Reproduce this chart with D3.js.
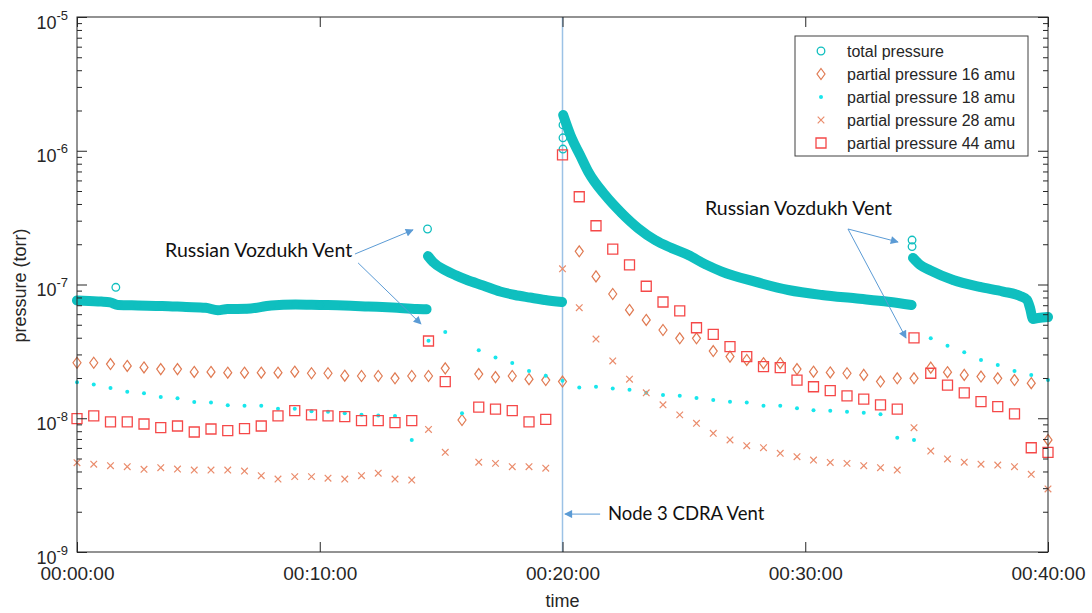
<!DOCTYPE html>
<html>
<head>
<meta charset="utf-8">
<script src="https://cdnjs.cloudflare.com/ajax/libs/d3/7.8.5/d3.min.js"></script>
<style>
  body { margin: 0; background: #fff; }
  svg { display: block; }
</style>
</head>
<body>
<div id="chart"></div>
<script>
// sample times of the partial pressure scans (minutes)
var sampleTimes = [0.00,0.69,1.38,2.07,2.76,3.45,4.14,4.83,5.52,6.21,6.90,7.59,8.28,8.97,9.66,10.34,11.03,11.72,12.41,13.10,13.79,14.48,
  15.17,15.86,16.55,17.24,17.93,18.62,19.31,20.00,
  20.69,21.38,22.07,22.76,23.45,24.14,24.83,25.52,26.21,26.90,27.59,28.28,28.97,29.66,30.34,31.03,
  31.72,32.41,33.10,33.79,34.48,35.17,35.86,36.55,37.24,37.93,38.62,39.31,40.00];

var pp16 = [2.60e-8,2.60e-8,2.54e-8,2.46e-8,2.40e-8,2.33e-8,2.33e-8,2.22e-8,2.22e-8,2.19e-8,2.19e-8,2.19e-8,2.19e-8,2.23e-8,2.17e-8,2.17e-8,2.08e-8,2.07e-8,2.07e-8,1.99e-8,2.07e-8,2.07e-8,
  2.36e-8,9.70e-9,2.14e-8,2.03e-8,2.07e-8,1.96e-8,1.93e-8,1.88e-8,
  1.77e-7,1.15e-7,8.49e-8,6.45e-8,5.43e-8,4.57e-8,3.96e-8,3.96e-8,3.18e-8,2.89e-8,2.73e-8,2.58e-8,2.58e-8,2.33e-8,2.23e-8,2.20e-8,
  2.17e-8,2.11e-8,1.88e-8,1.99e-8,1.99e-8,2.39e-8,2.21e-8,2.11e-8,2.05e-8,1.99e-8,1.93e-8,1.83e-8,6.88e-9];

var pp18 = [1.86e-8,1.79e-8,1.68e-8,1.58e-8,1.54e-8,1.44e-8,1.41e-8,1.32e-8,1.31e-8,1.25e-8,1.24e-8,1.24e-8,1.18e-8,1.18e-8,1.13e-8,1.12e-8,1.09e-8,1.06e-8,1.05e-8,1.04e-8,6.88e-9,3.80e-8,
  4.42e-8,1.09e-8,3.22e-8,2.84e-8,2.59e-8,2.26e-8,2.08e-8,1.91e-8,
  1.70e-8,1.72e-8,1.67e-8,1.63e-8,1.55e-8,1.49e-8,1.47e-8,1.42e-8,1.37e-8,1.33e-8,1.31e-8,1.24e-8,1.24e-8,1.19e-8,1.15e-8,1.14e-8,
  1.12e-8,1.10e-8,1.07e-8,7.15e-9,6.88e-9,3.96e-8,3.49e-8,3.11e-8,2.73e-8,2.50e-8,2.26e-8,2.11e-8,1.93e-8];

var pp28 = [4.65e-9,4.53e-9,4.42e-9,4.34e-9,4.15e-9,4.27e-9,4.17e-9,4.10e-9,4.10e-9,4.10e-9,4.03e-9,3.72e-9,3.51e-9,3.66e-9,3.66e-9,3.56e-9,3.51e-9,3.72e-9,3.88e-9,3.51e-9,3.45e-9,8.24e-9,
  5.56e-9,null,4.69e-9,4.60e-9,4.34e-9,4.34e-9,4.23e-9,1.31e-7,
  6.71e-8,3.91e-8,2.68e-8,1.96e-8,1.55e-8,1.26e-8,1.06e-8,9.17e-9,7.72e-9,6.88e-9,6.23e-9,6.02e-9,5.47e-9,5.16e-9,4.87e-9,4.67e-9,
  4.60e-9,4.42e-9,4.27e-9,4.10e-9,8.50e-9,5.69e-9,4.96e-9,4.69e-9,4.53e-9,4.47e-9,4.34e-9,3.81e-9,2.96e-9];

var pp44 = [9.92e-9,1.04e-8,9.38e-9,9.38e-9,9.06e-9,8.50e-9,8.75e-9,7.89e-9,8.31e-9,8.07e-9,8.35e-9,8.75e-9,1.04e-8,1.14e-8,1.06e-8,1.04e-8,1.03e-8,9.59e-9,9.59e-9,9.26e-9,9.59e-9,3.78e-8,
  1.88e-8,null,1.21e-8,1.17e-8,1.14e-8,9.38e-9,9.82e-9,9.30e-7,
  4.53e-7,2.75e-7,1.84e-7,1.40e-7,9.70e-8,7.40e-8,6.34e-8,4.75e-8,4.24e-8,3.43e-8,2.89e-8,2.43e-8,2.39e-8,1.93e-8,1.72e-8,1.61e-8,
  1.47e-8,1.39e-8,1.26e-8,1.17e-8,3.99e-8,2.17e-8,1.77e-8,1.55e-8,1.33e-8,1.22e-8,1.08e-8,6.02e-9,5.56e-9];

// total pressure, [minutes, torr], one list per stretch between vents
var totalA = [[0.00,7.60e-8],[0.50,7.52e-8],[1.00,7.46e-8],[1.36,7.36e-8],[1.69,7.03e-8],[2.50,6.97e-8],[3.50,6.91e-8],[4.50,6.79e-8],
  [5.30,6.70e-8],[5.80,6.42e-8],[6.20,6.55e-8],[7.00,6.58e-8],[8.00,6.97e-8],[9.00,7.09e-8],[10.00,7.03e-8],[11.00,6.97e-8],
  [12.00,6.85e-8],[13.00,6.73e-8],[14.00,6.57e-8],[14.40,6.53e-8]];
var totalB = [[14.46,1.63e-7],[14.67,1.47e-7],[15.16,1.28e-7],[15.61,1.17e-7],[16.07,1.08e-7],[16.73,9.83e-8],[17.43,8.86e-8],
  [18.04,8.35e-8],[18.66,7.99e-8],[19.28,7.66e-8],[19.98,7.40e-8]];
var totalC = [[20.03,1.85e-6],[20.38,1.24e-6],[20.72,9.30e-7],[21.06,6.97e-7],[21.75,4.67e-7],[22.44,3.41e-7],[23.12,2.63e-7],
  [23.81,2.15e-7],[24.50,1.87e-7],[25.18,1.66e-7],[25.87,1.42e-7],[26.56,1.25e-7],[27.93,1.05e-7],[29.30,9.10e-8],
  [30.68,8.35e-8],[32.05,7.88e-8],[33.42,7.44e-8],[34.38,7.03e-8]];
var totalD = [[34.44,1.58e-7],[34.73,1.40e-7],[35.14,1.28e-7],[36.09,1.08e-7],[37.20,9.58e-8],[38.15,8.86e-8],[38.85,8.20e-8],
  [39.14,7.66e-8],[39.26,6.67e-8],[39.38,5.52e-8],[39.59,5.62e-8],[40.00,5.71e-8]];
var totalSpikes = [[1.60,9.53e-8],[14.44,2.60e-7],[20.02,1.56e-6],[20.02,1.25e-6],[20.02,1.03e-6],[34.40,2.15e-7],[34.40,1.92e-7]];

var xTicks = [0, 10, 20, 30, 40];
var xTickLabels = ["00:00:00", "00:10:00", "00:20:00", "00:30:00", "00:40:00"];
var yTicks = [1e-9, 1e-8, 1e-7, 1e-6, 1e-5];
var legendLabels = ["total pressure", "partial pressure 16 amu", "partial pressure 18 amu", "partial pressure 28 amu", "partial pressure 44 amu"];

// annotations in data units: text anchor and arrows [t0,p0,t1,p1]
var vozdukh = [
  {text: "Russian Vozdukh Vent", t: 3.63, p: 1.61e-7, arrows: [[11.45,1.69e-7,13.84,2.56e-7],[11.58,1.45e-7,14.17,5.07e-8]]},
  {text: "Russian Vozdukh Vent", t: 25.87, p: 3.31e-7, arrows: [[31.76,2.60e-7,33.82,2.08e-7],[31.76,2.60e-7,34.15,3.98e-8]]}
];
var cdra = {text: "Node 3 CDRA Vent", t: 21.87, p: 1.73e-9, arrow: [21.55,1.92e-9,20.10,1.92e-9], ventTime: 20};

var width = 1092, height = 613;
var plotLeft = 77, plotRight = 1048, plotTop = 17, plotBottom = 552;

var svg = d3.select("#chart").append("svg")
    .attr("width", width)
    .attr("height", height);

var x = d3.scaleLinear().domain([0, 40]).range([plotLeft, plotRight]);
var y = d3.scaleLog().domain([1e-9, 1e-5]).range([plotBottom, plotTop]);

var teal = "#0fbfbf", c16 = "#e07a52", c18 = "#18e6ec", c28 = "#ea8c6c", c44 = "#f54848";
var axisColor = "#262626";
var arrowColor = "#5b9bd5";

svg.append("defs").append("marker")
    .attr("id", "arrow")
    .attr("viewBox", "0 0 10 10")
    .attr("refX", 9).attr("refY", 5)
    .attr("markerWidth", 10).attr("markerHeight", 8)
    .attr("markerUnits", "userSpaceOnUse")
    .attr("orient", "auto")
  .append("path")
    .attr("d", "M0,0 L10,5 L0,10 z")
    .attr("fill", arrowColor);

// vent line at 20 min
svg.append("line")
    .attr("x1", x(cdra.ventTime)).attr("x2", x(cdra.ventTime))
    .attr("y1", y(1e-9)).attr("y2", y(1e-5))
    .attr("stroke", "#9cc2e6")
    .attr("stroke-width", 1.5);

// total pressure band
var band = d3.line()
    .x(function(d) { return x(d[0]); })
    .y(function(d) { return y(d[1]); })
    .curve(d3.curveMonotoneX);

var totalG = svg.append("g");
[totalA, totalB, totalC, totalD].forEach(function(seg) {
  totalG.append("path")
      .attr("d", band(seg))
      .attr("fill", "none")
      .attr("stroke", teal)
      .attr("stroke-width", 10)
      .attr("stroke-linecap", "round")
      .attr("stroke-linejoin", "round");
});
totalG.selectAll("circle")
    .data(totalA.concat(totalB, totalC, totalD, totalSpikes))
    .enter()
    .append("circle")
    .attr("cx", function(d) { return x(d[0]); })
    .attr("cy", function(d) { return y(d[1]); })
    .attr("r", 3.8)
    .attr("fill", "none")
    .attr("stroke", teal)
    .attr("stroke-width", 1.3);

// marker shapes
function diamondPath() { return "M0,-5.5 L4,0 L0,5.5 L-4,0 Z"; }
function crossPath() { return "M-3.3,-3.3 L3.3,3.3 M-3.3,3.3 L3.3,-3.3"; }
function squarePath() { return "M-5,-5 L5,-5 L5,5 L-5,5 Z"; }

function points(values) {
  return values.map(function(v, i) { return {t: sampleTimes[i], p: v}; })
    .filter(function(d) { return d.p != null; });
}
function place(d) { return "translate(" + x(d.t) + "," + y(d.p) + ")"; }

svg.append("g").selectAll("path")
    .data(points(pp16)).enter().append("path")
    .attr("d", diamondPath())
    .attr("transform", place)
    .attr("fill", "none").attr("stroke", c16).attr("stroke-width", 1.2);

svg.append("g").selectAll("circle")
    .data(points(pp18)).enter().append("circle")
    .attr("cx", function(d) { return x(d.t); })
    .attr("cy", function(d) { return y(d.p); })
    .attr("r", 2)
    .attr("fill", c18);

svg.append("g").selectAll("path")
    .data(points(pp28)).enter().append("path")
    .attr("d", crossPath())
    .attr("transform", place)
    .attr("fill", "none").attr("stroke", c28).attr("stroke-width", 1.2);

svg.append("g").selectAll("path")
    .data(points(pp44)).enter().append("path")
    .attr("d", squarePath())
    .attr("transform", place)
    .attr("fill", "none").attr("stroke", c44).attr("stroke-width", 1.3);

// axes (ticks point inward)
function styleAxis(g) {
  g.select(".domain").remove();
  g.selectAll(".tick line").attr("stroke", axisColor);
}
var minorTicks = [];
[-9, -8, -7, -6].forEach(function(k) {
  for (var m = 2; m <= 9; m++) minorTicks.push(m * Math.pow(10, k));
});

var xAxis = svg.append("g")
    .attr("transform", "translate(0," + plotBottom + ")")
    .call(d3.axisBottom(x).tickValues(xTicks).tickSize(-10)
      .tickFormat(function(d, i) { return xTickLabels[i]; }))
    .call(styleAxis);
xAxis.selectAll(".tick text")
    .attr("y", 28).attr("dy", null)
    .attr("font-family", "Liberation Sans, Arial, sans-serif")
    .attr("font-size", 19)
    .attr("fill", axisColor);

svg.append("g")
    .attr("transform", "translate(0," + plotTop + ")")
    .call(d3.axisTop(x).tickValues(xTicks).tickSize(-10).tickFormat(""))
    .call(styleAxis);

var yAxis = svg.append("g")
    .attr("transform", "translate(" + plotLeft + ",0)")
    .call(d3.axisLeft(y).tickValues(yTicks).tickSize(-10))
    .call(styleAxis);
yAxis.selectAll(".tick text")
    .text(null)
    .attr("x", -9).attr("y", 11).attr("dy", null)
    .attr("font-family", "Liberation Sans, Arial, sans-serif")
    .attr("font-size", 18)
    .attr("fill", axisColor)
    .each(function(d) {
      var t = d3.select(this);
      t.append("tspan").text("10");
      t.append("tspan").attr("dy", -9).attr("font-size", 13).text(Math.round(Math.log10(d)));
    });

svg.append("g")
    .attr("transform", "translate(" + plotLeft + ",0)")
    .call(d3.axisLeft(y).tickValues(minorTicks).tickSize(-5).tickFormat(""))
    .call(styleAxis);

svg.append("g")
    .attr("transform", "translate(" + plotRight + ",0)")
    .call(d3.axisRight(y).tickValues(yTicks).tickSize(-10).tickFormat(""))
    .call(styleAxis);
svg.append("g")
    .attr("transform", "translate(" + plotRight + ",0)")
    .call(d3.axisRight(y).tickValues(minorTicks).tickSize(-5).tickFormat(""))
    .call(styleAxis);

svg.append("rect")
    .attr("x", plotLeft).attr("y", plotTop)
    .attr("width", plotRight - plotLeft).attr("height", plotBottom - plotTop)
    .attr("fill", "none")
    .attr("stroke", axisColor)
    .attr("stroke-width", 1);

// axis titles
svg.append("text")
    .attr("x", x(20)).attr("y", 607)
    .attr("text-anchor", "middle")
    .attr("font-family", "Liberation Sans, Arial, sans-serif")
    .attr("font-size", 18)
    .attr("fill", axisColor)
    .text("time");
svg.append("text")
    .attr("transform", "translate(26," + ((plotTop + plotBottom) / 2 + 1) + ") rotate(-90)")
    .attr("text-anchor", "middle")
    .attr("font-family", "Liberation Sans, Arial, sans-serif")
    .attr("font-size", 18)
    .attr("fill", axisColor)
    .text("pressure (torr)");

// annotations
var annFont = "Lato, 'Open Sans', sans-serif";
vozdukh.forEach(function(a) {
  svg.append("text")
      .attr("x", x(a.t)).attr("y", y(a.p))
      .attr("font-family", annFont)
      .attr("font-size", 19.5)
      .attr("fill", "#111")
      .text(a.text);
  a.arrows.forEach(function(r) {
    svg.append("line")
        .attr("x1", x(r[0])).attr("y1", y(r[1]))
        .attr("x2", x(r[2])).attr("y2", y(r[3]))
        .attr("stroke", arrowColor).attr("stroke-width", 1)
        .attr("marker-end", "url(#arrow)");
  });
});
svg.append("text")
    .attr("x", x(cdra.t)).attr("y", y(cdra.p))
    .attr("font-family", annFont)
    .attr("font-size", 18.5)
    .attr("fill", "#111")
    .text(cdra.text);
svg.append("line")
    .attr("x1", x(cdra.arrow[0])).attr("y1", y(cdra.arrow[1]))
    .attr("x2", x(cdra.arrow[2])).attr("y2", y(cdra.arrow[3]))
    .attr("stroke", arrowColor).attr("stroke-width", 1)
    .attr("marker-end", "url(#arrow)");

// legend
var legend = svg.append("g").attr("transform", "translate(795,36)");
legend.append("rect")
    .attr("width", 233).attr("height", 120)
    .attr("fill", "#fff")
    .attr("stroke", "#404040")
    .attr("stroke-width", 1);
var rows = legend.selectAll("g.row")
    .data(legendLabels).enter().append("g")
    .attr("class", "row")
    .attr("transform", function(d, i) { return "translate(26," + (15 + i * 23) + ")"; });
rows.append("text")
    .attr("x", 26).attr("y", 6)
    .attr("font-family", "Liberation Sans, Arial, sans-serif")
    .attr("font-size", 16)
    .attr("fill", axisColor)
    .text(function(d) { return d; });
rows.each(function(d, i) {
  var r = d3.select(this);
  if (i === 0) r.append("circle").attr("r", 3.8).attr("fill", "none").attr("stroke", teal).attr("stroke-width", 1.3);
  if (i === 1) r.append("path").attr("d", diamondPath()).attr("fill", "none").attr("stroke", c16).attr("stroke-width", 1.2);
  if (i === 2) r.append("circle").attr("r", 2).attr("fill", c18);
  if (i === 3) r.append("path").attr("d", crossPath()).attr("fill", "none").attr("stroke", c28).attr("stroke-width", 1.2);
  if (i === 4) r.append("path").attr("d", squarePath()).attr("fill", "none").attr("stroke", c44).attr("stroke-width", 1.3);
});
</script>
</body>
</html>
